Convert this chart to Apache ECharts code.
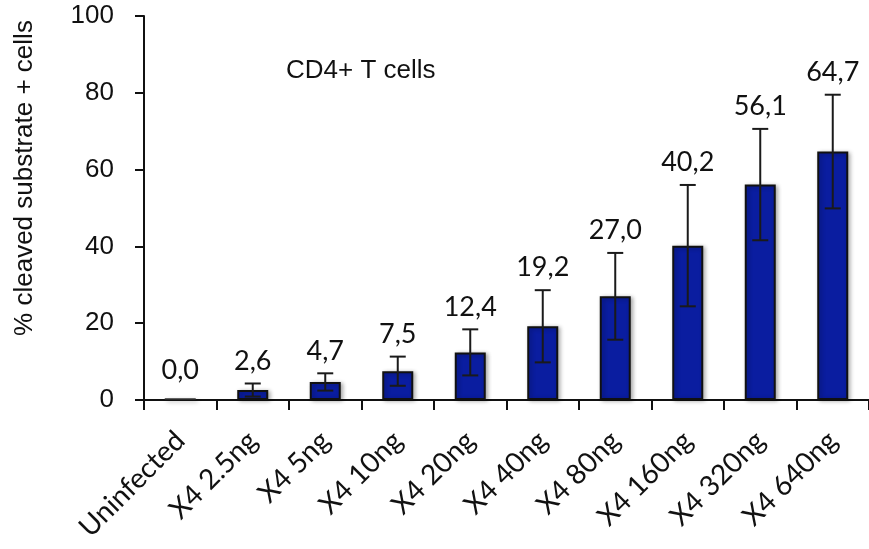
<!DOCTYPE html>
<html>
<head>
<meta charset="utf-8">
<script src="https://cdn.jsdelivr.net/npm/echarts@6/dist/echarts.min.js"></script>
<style>
  html, body { margin: 0; padding: 0; background: #ffffff; }
  #chart { width: 869px; height: 549px; }
</style>
</head>
<body>
<div id="chart"></div>
<script>
// Infection conditions along the x axis
const categories = ['Uninfected', 'X4 2.5ng', 'X4 5ng', 'X4 10ng', 'X4 20ng',
                    'X4 40ng', 'X4 80ng', 'X4 160ng', 'X4 320ng', 'X4 640ng'];
// Mean % of cells with cleaved substrate
const values = [0.0, 2.6, 4.7, 7.5, 12.4, 19.2, 27.0, 40.2, 56.1, 64.7];
// Symmetric error (± around the mean)
const errors = [0, 1.7, 2.25, 3.8, 6.0, 9.4, 11.3, 15.8, 14.5, 14.8];
// Value axis ticks
const yTicks = [0, 20, 40, 60, 80, 100];

const BAR_WIDTH = 31;

const chart = echarts.init(document.getElementById('chart'), null, { renderer: 'canvas' });

const fmt = v => v.toFixed(1).replace('.', ',');

const option = {
  animation: false,
  backgroundColor: '#ffffff',
  grid: { left: 144, right: -4, top: 16, bottom: 149, containLabel: false },
  xAxis: {
    type: 'category',
    data: categories,
    boundaryGap: true,
    axisLine: { lineStyle: { color: '#111111', width: 2 } },
    axisTick: { show: true, interval: 0, length: 10, lineStyle: { color: '#111111', width: 2 } },
    axisLabel: {
      interval: 0,
      rotate: 45,
      margin: 36,
      color: '#111111',
      fontFamily: 'Lato',
      fontSize: 28
    }
  },
  yAxis: {
    type: 'value',
    min: yTicks[0],
    max: yTicks[yTicks.length - 1],
    interval: yTicks[1] - yTicks[0],
    splitLine: { show: false },
    axisLine: { show: true, lineStyle: { color: '#111111', width: 2 } },
    axisTick: { show: true, length: 9, lineStyle: { color: '#111111', width: 2 } },
    axisLabel: {
      margin: 30,
      color: '#111111',
      fontFamily: 'Liberation Sans',
      fontSize: 26
    }
  },
  graphic: [
    {
      type: 'text',
      x: 25,
      y: 178,
      rotation: Math.PI / 2,
      style: {
        text: '% cleaved substrate + cells',
        fill: '#111111',
        font: '26px "Liberation Sans"',
        align: 'center',
        verticalAlign: 'middle'
      }
    },
    {
      type: 'text',
      x: 286,
      y: 71,
      style: {
        text: 'CD4+ T cells',
        fill: '#111111',
        font: '26px "Liberation Sans"',
        align: 'left',
        verticalAlign: 'middle'
      }
    }
  ],
  series: [
    {
      type: 'bar',
      data: values,
      barWidth: BAR_WIDTH,
      itemStyle: {
        color: '#0A1DA0',
        borderColor: '#111111',
        borderWidth: 2,
        shadowBlur: 4,
        shadowColor: 'rgba(0,0,0,0.3)',
        shadowOffsetX: 2,
        shadowOffsetY: 1
      },
      z: 2
    },
    {
      type: 'custom',
      data: values.map((v, i) => [i, v, errors[i]]),
      z: 3,
      renderItem(params, api) {
        const i = api.value(0);
        const v = api.value(1);
        const e = api.value(2);
        const mid = api.coord([i, v]);
        const top = api.coord([i, v + e]);
        const bot = api.coord([i, v - e]);
        const half = 8;
        const line = { stroke: '#1a1a1a', lineWidth: 2 };
        const children = [];
        if (v === 0) {
          // a zero-height bar still shows its outline on the axis
          children.push({
            type: 'line',
            shape: { x1: mid[0] - BAR_WIDTH / 2, y1: mid[1] - 1, x2: mid[0] + BAR_WIDTH / 2, y2: mid[1] - 1 },
            style: { stroke: '#333333', lineWidth: 1.5 }
          });
        }
        if (e > 0) {
          children.push(
            { type: 'line', shape: { x1: top[0], y1: top[1], x2: bot[0], y2: bot[1] }, style: line },
            { type: 'line', shape: { x1: top[0] - half, y1: top[1], x2: top[0] + half, y2: top[1] }, style: line },
            { type: 'line', shape: { x1: bot[0] - half, y1: bot[1], x2: bot[0] + half, y2: bot[1] }, style: line }
          );
        }
        children.push({
          type: 'text',
          x: top[0],
          y: top[1] - (e > 0 ? 9 : 16),
          style: {
            text: fmt(v),
            fill: '#111111',
            font: '27px Lato',
            align: 'center',
            verticalAlign: 'bottom'
          }
        });
        return { type: 'group', children };
      }
    }
  ]
};

chart.setOption(option);
</script>
</body>
</html>
